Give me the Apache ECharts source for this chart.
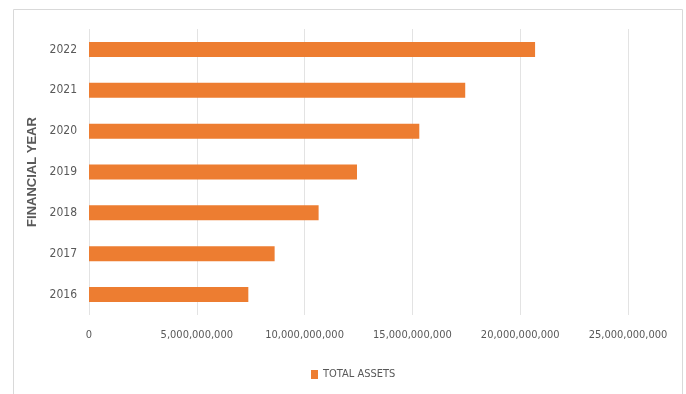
<!DOCTYPE html>
<html>
<head>
<meta charset="utf-8">
<script src="https://cdn.jsdelivr.net/npm/echarts@6/dist/echarts.min.js"></script>
<style>
  html, body { margin: 0; padding: 0; background: #fff; }
  #chart { width: 686px; height: 394px; }
</style>
</head>
<body>
<div id="chart"></div>
<script>
// financial years (bottom to top)
var years = ['2016', '2017', '2018', '2019', '2020', '2021', '2022'];
// total assets
var totalAssets = [7390000000, 8610000000, 10650000000, 12430000000, 15320000000, 17450000000, 20690000000];
var xTicks = [0, 5000000000, 10000000000, 15000000000, 20000000000, 25000000000];

var narrow = '"Liberation Sans Narrow", "DejaVu Sans Condensed", "Liberation Sans", sans-serif';

var myChart = echarts.init(document.getElementById('chart'));
myChart.setOption({
  animation: false,
  // light frame round the chart
  graphic: [{
    type: 'rect',
    shape: { x: 13.5, y: 9.5, width: 669, height: 400 },
    style: { fill: 'none', stroke: '#d9d9d9', lineWidth: 1 },
    silent: true
  }],
  grid: { left: 89, right: 58, top: 29, bottom: 79 },
  legend: {
    data: ['TOTAL ASSETS'],
    top: 364,
    left: 306,
    itemWidth: 7,
    itemHeight: 9,
    itemGap: 4,
    icon: 'rect',
    textStyle: { color: '#595959', fontSize: 11, fontFamily: narrow }
  },
  xAxis: {
    type: 'value',
    min: xTicks[0],
    max: xTicks[xTicks.length - 1],
    interval: xTicks[1] - xTicks[0],
    axisLine: { show: false },
    axisTick: { show: false },
    splitLine: { lineStyle: { color: '#e3e3e3', width: 1 } },
    axisLabel: {
      margin: 15,
      color: '#595959',
      fontSize: 11,
      fontFamily: narrow,
      formatter: function (v) { return v.toLocaleString('en-US'); }
    }
  },
  yAxis: {
    type: 'category',
    data: years,
    name: 'FINANCIAL YEAR',
    nameLocation: 'middle',
    nameGap: 50,
    nameRotate: 90,
    nameTextStyle: { color: '#595959', fontSize: 13, fontWeight: 'bold', fontFamily: 'Liberation Sans, Arial, sans-serif' },
    axisLine: { show: false },
    axisTick: { show: false },
    axisLabel: { margin: 12, color: '#595959', fontSize: 12, fontFamily: narrow }
  },
  series: [{
    name: 'TOTAL ASSETS',
    type: 'bar',
    data: totalAssets,
    barWidth: 15,
    itemStyle: { color: '#ed7d31' }
  }]
});
</script>
</body>
</html>
